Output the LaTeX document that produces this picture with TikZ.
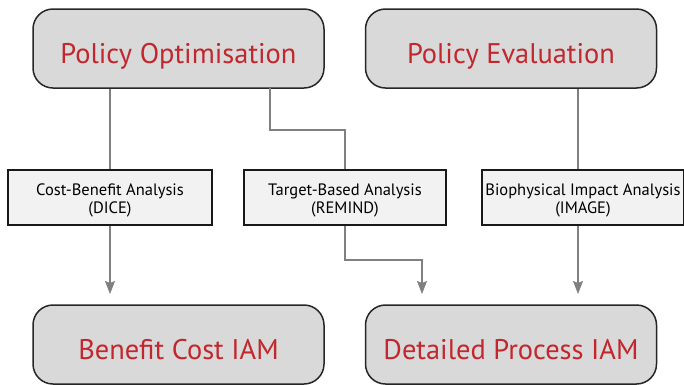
\documentclass[tikz,border=0pt]{standalone}
\usepackage{fontspec}
\setmainfont{PT Sans}
\usetikzlibrary{arrows.meta}
\definecolor{boxgray}{HTML}{D9D9D9}
\definecolor{midgray}{HTML}{F2F2F2}
\definecolor{titlered}{HTML}{C1272D}
\definecolor{linegray}{HTML}{808080}
\newcommand\twolines[2]{\raisebox{0pt}[10pt][15pt]{\begin{tabular}[t]{@{}c@{}}#1\\#2\end{tabular}}}
\begin{document}
\begin{tikzpicture}[x=1pt,y=-1pt,
  bigbox/.style={draw=black!85,line width=1.5pt,fill=boxgray,rounded corners=20pt,
    minimum width=291pt,minimum height=79pt,text=titlered,
    font=\fontsize{28.4}{32}\selectfont,inner sep=0pt,text height=29pt,text depth=0pt},
  midbox/.style={draw=black!90,line width=1.2pt,fill=midgray,
    minimum height=55pt,font=\fontsize{16.5}{18.5}\selectfont,inner sep=0pt},
  conn/.style={draw=linegray,line width=1.2pt},
  arr/.style={conn,-{Stealth[length=13pt,width=10pt,inset=2pt]}}]
\useasboundingbox (0,0) rectangle (684,384);
\node[bigbox] (po) at (178.5,48.5) {Policy Optimisation};
\node[bigbox] (pe) at (511,48.5) {Policy Evaluation};
\node[bigbox] (bc) at (178.5,344.5) {Benefit Cost IAM};
\node[bigbox] (dp) at (511,344.5) {Detailed Process IAM};
\node[midbox,minimum width=204pt] (cb) at (110,197.5) {\twolines{Cost-Benefit Analysis}{(DICE)}};
\node[midbox,minimum width=202pt] (tb) at (345,197.5) {\twolines{Target-Based Analysis}{(REMIND)}};
\node[midbox,minimum width=202pt] (bi) at (583,197.5) {\twolines{Biophysical Impact Analysis}{(IMAGE)}};
\coordinate (a1) at (110,294);
\coordinate (a2) at (422,294);
\coordinate (a3) at (578,294);
\draw[conn] (po.south -| cb.north) -- (cb.north);
\draw[conn] (270,88) -- (270,130) -| (tb.north);
\draw[conn] (pe.south -| a3) -- (bi.north -| a3);
\draw[arr] (cb.south) -- (a1);
\draw[arr] (tb.south) |- (422,260) -- (a2);
\draw[arr] (bi.south -| a3) -- (a3);
\end{tikzpicture}
\end{document}
